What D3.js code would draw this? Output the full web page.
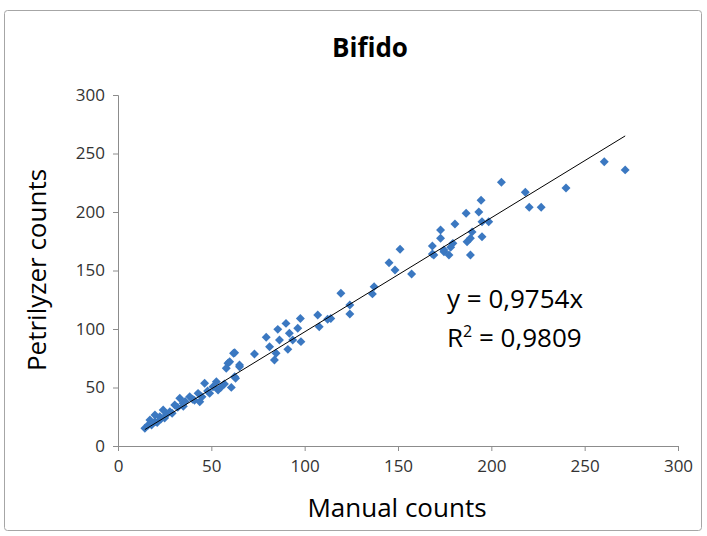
<!DOCTYPE html>
<meta charset="utf-8">
<style>
body { margin: 0; background: white; }
text { font-family: "Open Sans", "DejaVu Sans", sans-serif; }
</style>
<script src="https://cdn.jsdelivr.net/npm/d3@7"></script>
<body>
</body>
<script>

// manual counts (x) vs petrilyzer counts (y)
var manual = [
  14.4, 16.2, 17.1, 18, 19.8, 19.8, 21, 22.4, 23, 24.2, 25, 26, 27.8, 29, 30.4, 32, 33.1, 34.9, 35, 36,
  38.4, 40, 41, 42.9, 43.8, 45, 46.4, 48, 49.1, 50.9, 52.7, 53.6, 55, 57, 60.7, 63, 58.9, 65.1, 61.9,
  62.5, 59.8, 65.1, 58, 62.5, 73.1, 79.4, 81.2, 83.8, 84.7, 85.6, 86.5, 90, 91, 91.8, 93.6, 96.3, 97.7,
  98, 107, 107.8, 112.3, 114, 119.4, 124.2, 124.2, 136.3, 137.2, 145.2, 148.4, 151.1, 157.3, 168.4,
  168.4, 169.2, 174.6, 172.8, 172.8, 174.6, 177.3, 178.2, 179.4, 180.5, 186.5, 187, 188.8, 188.8, 189.7,
  193.3, 194.5, 195, 195, 198.6, 205.4, 218.2, 220.3, 226.7, 240, 260.5, 271.7
];
var petrilyzer = [
  15.1, 17.9, 22.2, 18, 20.8, 26.5, 20, 25, 23, 30.8, 24, 27, 29.3, 28, 35, 33, 40.8, 36.5, 34, 38,
  42.2, 40, 39, 45, 37.9, 42, 53.6, 47, 45, 50.7, 55, 47.9, 50, 53, 50.1, 57.9, 70.7, 69.2, 79.2,
  79.7, 72, 67.8, 66.4, 59.2, 78.6, 92.9, 84.9, 73.5, 79.2, 99.7, 90.6, 104.8, 82.6, 96.3, 90.6, 100.6, 109,
  89.2, 112, 102, 108.3, 109, 130.5, 120.5, 112.8, 130, 136.2, 156.7, 150.4, 168.1, 147, 171,
  164.1, 163.2, 166, 184.6, 177.5, 167.5, 163.2, 169.8, 173.2, 189.7, 199, 174.6, 177.5, 163.2, 183,
  200, 210, 191.7, 178.9, 191.7, 225.4, 216.8, 204, 204, 220.5, 243, 236
];
var slope = 0.9754;
var r2 = "0,9809";
var ticks = [0, 50, 100, 150, 200, 250, 300];

var points = manual.map((d, i) => ({x: d, y: petrilyzer[i]}));

const width = 707;
const height = 536;

var xScale = d3.scaleLinear().domain([0, 300]).range([118, 678]);
var yScale = d3.scaleLinear().domain([0, 300]).range([446, 95]);

var svg = d3.select("body").append("svg")
  .attr("width", width)
  .attr("height", height);

// chart frame
svg.append("rect")
  .attr("x", 4.5).attr("y", 10.5)
  .attr("width", 697).attr("height", 520)
  .attr("rx", 3)
  .attr("fill", "white")
  .attr("stroke", "#a6a6a6");

svg.append("text")
  .attr("x", 370).attr("y", 57)
  .attr("text-anchor", "middle")
  .style("font-size", "26px")
  .style("font-weight", "bold")
  .text("Bifido");

var xAxis = svg.append("g")
  .attr("transform", `translate(0,${yScale(0)})`)
  .call(d3.axisBottom(xScale).tickValues(ticks).tickSize(5).tickPadding(9));

var yAxis = svg.append("g")
  .attr("transform", `translate(${xScale(0)},0)`)
  .call(d3.axisLeft(yScale).tickValues(ticks).tickSize(5).tickPadding(8));

[xAxis, yAxis].forEach(function(ax) {
  ax.select(".domain").attr("stroke", "#8c8c8c");
  ax.selectAll(".tick line").attr("stroke", "#8c8c8c");
  ax.selectAll(".tick text")
    .attr("fill", "#333")
    .style("font-size", "17px")
    .style("font-family", "\"Open Sans\", sans-serif");
});

svg.append("text")
  .attr("x", 397).attr("y", 517)
  .attr("text-anchor", "middle")
  .style("font-size", "26px")
  .text("Manual counts");

svg.append("text")
  .attr("transform", "translate(46,270) rotate(-90)")
  .attr("text-anchor", "middle")
  .style("font-size", "26px")
  .text("Petrilyzer counts");

// points: diamonds
svg.append("g").selectAll("path")
  .data(points)
  .enter()
  .append("path")
    .attr("d", d3.symbol().type(d3.symbolSquare).size(40))
    .attr("transform", d => `translate(${xScale(d.x)},${yScale(d.y)}) rotate(45)`)
    .attr("fill", "#3b78c1");

// trend line through origin
var xmin = d3.min(manual), xmax = d3.max(manual);
svg.append("line")
  .attr("x1", xScale(xmin)).attr("y1", yScale(slope * xmin))
  .attr("x2", xScale(xmax)).attr("y2", yScale(slope * xmax))
  .attr("stroke", "black")
  .attr("stroke-width", 1);

var eq = svg.append("text")
  .attr("x", 447).attr("y", 308)
  .style("font-size", "26px")
  .text("y = " + String(slope).replace(".", ",") + "x");

var r2t = svg.append("text")
  .attr("x", 447).attr("y", 347)
  .style("font-size", "26px");
r2t.append("tspan").text("R");
r2t.append("tspan").attr("dy", -10).style("font-size", "16px").text("2");
r2t.append("tspan").attr("dy", 10).text(" = " + r2);

</script>
